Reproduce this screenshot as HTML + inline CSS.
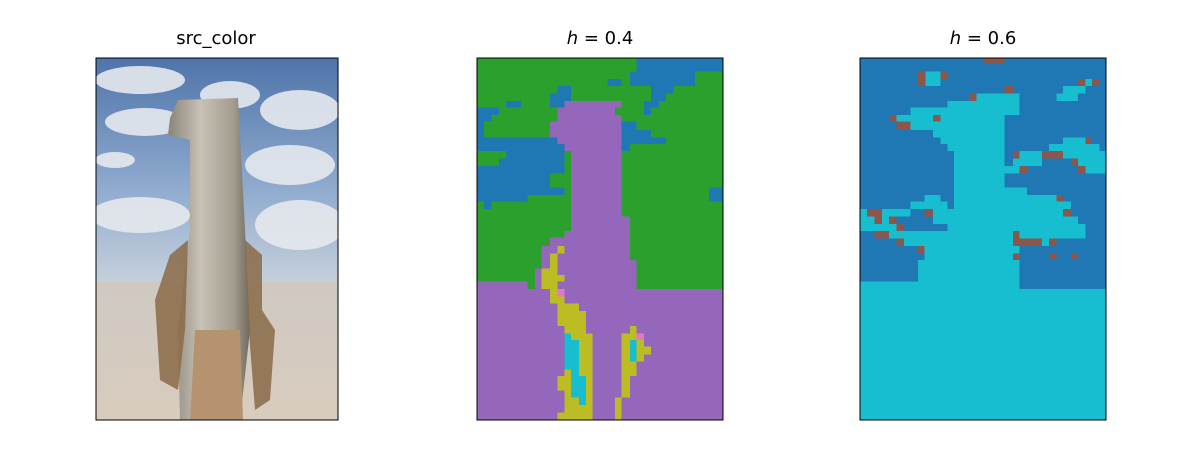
<!DOCTYPE html>
<html><head><meta charset="utf-8"><style>
body{margin:0;background:#fff;width:1200px;height:450px;overflow:hidden}
svg{display:block}
text{font-family:"DejaVu Sans","Liberation Sans",sans-serif;font-size:18px;fill:#000}
</style></head><body>
<svg width="1200" height="450">
<text x="216" y="44" text-anchor="middle">src_color</text>
<text x="600" y="44" text-anchor="middle"><tspan font-style="italic">h</tspan> = 0.4</text>
<text x="983" y="44" text-anchor="middle"><tspan font-style="italic">h</tspan> = 0.6</text>

<defs>
<linearGradient id="sky" x1="0" y1="0" x2="0" y2="1"><stop offset="0" stop-color="#4f74aa"/><stop offset="0.6" stop-color="#93aed0"/><stop offset="1" stop-color="#c9d2dc"/></linearGradient>
<linearGradient id="sand" x1="0" y1="0" x2="0" y2="1"><stop offset="0" stop-color="#cfc9c2"/><stop offset="1" stop-color="#d8ccbd"/></linearGradient>
<linearGradient id="post" x1="0" y1="0" x2="1" y2="0"><stop offset="0" stop-color="#8a8478"/><stop offset="0.4" stop-color="#c8c2b6"/><stop offset="0.8" stop-color="#a39d90"/><stop offset="1" stop-color="#6f695e"/></linearGradient>
<clipPath id="c1"><rect x="96" y="58" width="242" height="362"/></clipPath>
</defs>
<g clip-path="url(#c1)">
<rect x="96" y="58" width="242" height="230" fill="url(#sky)"/>
<g fill="#e6e9ee" opacity="0.9">
<ellipse cx="140" cy="80" rx="45" ry="14"/><ellipse cx="145" cy="122" rx="40" ry="14"/>
<ellipse cx="300" cy="110" rx="40" ry="20"/><ellipse cx="290" cy="165" rx="45" ry="20"/>
<ellipse cx="115" cy="160" rx="20" ry="8"/><ellipse cx="140" cy="215" rx="50" ry="18"/>
<ellipse cx="300" cy="225" rx="45" ry="25"/><ellipse cx="230" cy="95" rx="30" ry="14"/>
</g>
<rect x="96" y="282" width="242" height="138" fill="url(#sand)"/>
<polygon points="178,100 238,98 245,230 250,330 240,420 180,420 178,330 190,230 190,140 168,135 170,118" fill="url(#post)"/>
<polygon points="170,255 188,240 185,330 178,390 160,380 155,300" fill="#8a6a48" opacity="0.85"/>
<polygon points="245,240 262,255 262,310 275,330 270,400 255,410 248,320" fill="#8a6a48" opacity="0.85"/>
<polygon points="195,330 240,330 243,420 190,420" fill="#b5936f"/>
</g>
<rect x="96" y="58" width="242" height="362" fill="none" stroke="#000" stroke-width="1"/>

<g transform="translate(470,50) scale(0.33333)" shape-rendering="crispEdges">
<rect x="22" y="25" width="735" height="1083" fill="#2ca02c"/>
<g fill="#1f77b4">
<rect x="500" y="25" width="257" height="40"/><rect x="480" y="65" width="195" height="43"/><rect x="543" y="108" width="67" height="22"/><rect x="543" y="130" width="45" height="23"/><rect x="522" y="153" width="45" height="20"/><rect x="522" y="173" width="21" height="22"/>
<rect x="413" y="87" width="42" height="21"/><rect x="262" y="108" width="41" height="22"/><rect x="240" y="130" width="63" height="43"/><rect x="108" y="153" width="45" height="20"/>
<rect x="22" y="173" width="65" height="22"/><rect x="22" y="195" width="43" height="20"/><rect x="22" y="215" width="20" height="47"/><rect x="22" y="262" width="261" height="41"/><rect x="108" y="303" width="175" height="22"/><rect x="87" y="325" width="196" height="23"/><rect x="22" y="348" width="261" height="22"/><rect x="22" y="370" width="218" height="43"/><rect x="22" y="413" width="261" height="22"/><rect x="22" y="435" width="151" height="20"/><rect x="42" y="455" width="23" height="22"/>
<rect x="455" y="215" width="45" height="25"/><rect x="455" y="240" width="88" height="22"/><rect x="455" y="262" width="133" height="20"/><rect x="455" y="282" width="25" height="21"/><rect x="717" y="413" width="40" height="42"/>
</g>
<g fill="#9467bd">
<rect x="22" y="717" width="735" height="391"/><rect x="22" y="695" width="151" height="22"/>
<polygon points="283,153 455,153 455,500 480,500 480,630 500,630 500,717 195,717 195,655 215,655 215,588 240,588 240,563 283,563 283,543 303,543 303,303 283,303 283,282 262,282 262,262 240,262 240,215 262,215 262,173 283,173"/>
</g>
<rect x="435" y="173" width="20" height="22" fill="#2ca02c"/>
<g fill="#bcbd22">
<rect x="262" y="588" width="21" height="22"/><rect x="240" y="610" width="22" height="45"/><rect x="215" y="655" width="47" height="62"/><rect x="262" y="675" width="21" height="20"/><rect x="240" y="717" width="22" height="43"/><rect x="262" y="740" width="21" height="20"/><rect x="262" y="760" width="65" height="23"/><rect x="262" y="783" width="86" height="45"/><rect x="283" y="828" width="65" height="22"/><rect x="303" y="850" width="65" height="20"/><rect x="327" y="870" width="41" height="238"/><rect x="283" y="958" width="20" height="20"/><rect x="262" y="978" width="41" height="44"/><rect x="283" y="1022" width="20" height="86"/><rect x="262" y="1088" width="106" height="20"/><rect x="303" y="1043" width="24" height="65"/>
<rect x="480" y="828" width="20" height="22"/><rect x="455" y="850" width="45" height="20"/><rect x="455" y="870" width="25" height="108"/><rect x="480" y="935" width="20" height="43"/><rect x="500" y="870" width="22" height="65"/><rect x="522" y="890" width="21" height="23"/><rect x="455" y="978" width="25" height="65"/><rect x="435" y="1043" width="20" height="65"/>
</g>
<g fill="#17becf">
<rect x="283" y="850" width="20" height="108"/><rect x="303" y="870" width="24" height="130"/><rect x="303" y="978" width="45" height="65"/><rect x="327" y="1043" width="21" height="22"/><rect x="480" y="870" width="20" height="65"/>
</g>
<g fill="#e377c2"><rect x="262" y="717" width="21" height="23"/><rect x="500" y="850" width="22" height="20"/></g>
</g>
<rect x="477" y="58" width="246" height="362" fill="none" stroke="#000" stroke-width="1"/>

<g transform="translate(853,50) scale(0.33333)" shape-rendering="crispEdges">
<rect x="22" y="25" width="735" height="1083" fill="#1f77b4"/>
<g fill="#17becf">
<rect x="22" y="717" width="735" height="391"/><rect x="22" y="695" width="478" height="22"/>
<rect x="370" y="130" width="130" height="23"/><rect x="283" y="153" width="217" height="20"/><rect x="173" y="173" width="327" height="22"/><rect x="130" y="195" width="325" height="20"/><rect x="173" y="215" width="282" height="25"/><rect x="240" y="240" width="215" height="22"/><rect x="262" y="262" width="193" height="20"/><rect x="283" y="282" width="172" height="21"/><rect x="303" y="303" width="152" height="45"/><rect x="303" y="348" width="197" height="22"/><rect x="303" y="370" width="152" height="43"/><rect x="303" y="413" width="219" height="22"/><rect x="303" y="435" width="307" height="20"/><rect x="215" y="435" width="47" height="20"/><rect x="173" y="455" width="110" height="22"/><rect x="303" y="455" width="351" height="22"/><rect x="22" y="477" width="151" height="23"/><rect x="240" y="477" width="390" height="23"/><rect x="22" y="500" width="43" height="22"/><rect x="87" y="500" width="21" height="22"/><rect x="240" y="500" width="435" height="22"/><rect x="22" y="522" width="108" height="21"/><rect x="283" y="522" width="414" height="21"/><rect x="108" y="543" width="372" height="22"/><rect x="500" y="543" width="197" height="22"/><rect x="153" y="565" width="327" height="23"/><rect x="567" y="565" width="21" height="23"/><rect x="215" y="588" width="285" height="42"/><rect x="195" y="630" width="305" height="65"/>
<rect x="630" y="108" width="67" height="22"/><rect x="610" y="130" width="65" height="23"/><rect x="697" y="87" width="20" height="21"/><rect x="217" y="65" width="45" height="43"/><rect x="630" y="262" width="67" height="20"/><rect x="588" y="282" width="152" height="21"/><rect x="500" y="303" width="67" height="22"/><rect x="480" y="325" width="87" height="23"/><rect x="630" y="303" width="127" height="22"/><rect x="675" y="325" width="82" height="23"/><rect x="697" y="348" width="60" height="22"/>
</g>
<g fill="#8c564b">
<rect x="390" y="25" width="65" height="17"/><rect x="195" y="65" width="22" height="43"/><rect x="262" y="65" width="21" height="22"/><rect x="675" y="87" width="22" height="21"/><rect x="717" y="87" width="23" height="21"/><rect x="455" y="108" width="25" height="22"/><rect x="348" y="130" width="22" height="23"/><rect x="108" y="195" width="22" height="20"/><rect x="240" y="195" width="22" height="20"/><rect x="130" y="215" width="43" height="25"/><rect x="697" y="262" width="20" height="20"/><rect x="480" y="303" width="20" height="22"/><rect x="567" y="303" width="63" height="22"/><rect x="655" y="325" width="20" height="23"/><rect x="500" y="348" width="22" height="22"/><rect x="675" y="348" width="22" height="22"/><rect x="610" y="435" width="20" height="20"/><rect x="630" y="477" width="24" height="23"/><rect x="42" y="477" width="45" height="23"/><rect x="215" y="477" width="25" height="23"/><rect x="65" y="500" width="22" height="22"/><rect x="108" y="500" width="22" height="22"/><rect x="130" y="522" width="23" height="21"/><rect x="65" y="543" width="43" height="22"/><rect x="130" y="565" width="23" height="23"/><rect x="195" y="588" width="20" height="22"/><rect x="480" y="543" width="20" height="22"/><rect x="480" y="565" width="87" height="23"/><rect x="588" y="565" width="22" height="23"/><rect x="480" y="610" width="20" height="20"/><rect x="588" y="610" width="22" height="20"/><rect x="655" y="610" width="20" height="20"/>
</g>
</g>
<rect x="860" y="58" width="246" height="362" fill="none" stroke="#000" stroke-width="1"/>
</svg>
</body></html>
